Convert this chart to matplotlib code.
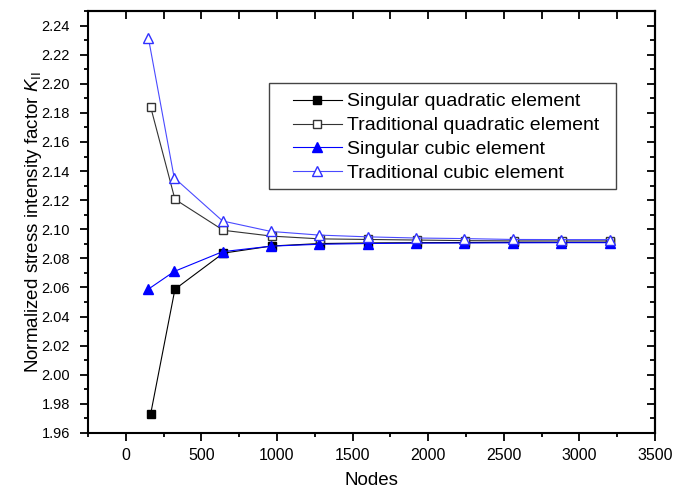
import numpy as np
import matplotlib
matplotlib.use("Agg")
import matplotlib.pyplot as plt
from matplotlib.ticker import MultipleLocator
from matplotlib.patches import Rectangle

plt.rcParams["font.family"] = ["Liberation Sans", "DejaVu Sans"]
plt.rcParams["mathtext.fontset"] = "custom"
plt.rcParams["mathtext.rm"] = "Liberation Sans"
plt.rcParams["mathtext.it"] = "Liberation Sans:italic"

# node counts
nodes_quad = [165, 325, 645, 965, 1285, 1605, 1925, 2245, 2565, 2885, 3205]
nodes_cubic = [150, 320, 640, 960, 1280, 1600, 1920, 2240, 2560, 2880, 3200]

singular_quad = [1.9734, 2.0588, 2.0836, 2.0885, 2.0902, 2.0906, 2.0908, 2.0909, 2.0910, 2.0910, 2.0910]
traditional_quad = [2.1838, 2.1206, 2.0993, 2.0953, 2.0934, 2.0930, 2.0926, 2.0922, 2.0920, 2.0920, 2.0920]
singular_cubic = [2.0589, 2.0710, 2.0846, 2.0884, 2.0897, 2.0902, 2.0905, 2.0906, 2.0907, 2.0908, 2.0908]
traditional_cubic = [2.2312, 2.1354, 2.1057, 2.0985, 2.0960, 2.0948, 2.0940, 2.0936, 2.0930, 2.0929, 2.0929]

labels = ["Singular quadratic element", "Traditional quadratic element",
          "Singular cubic element", "Traditional cubic element"]

fig = plt.figure(figsize=(6.86, 4.92), dpi=100)
ax = fig.add_axes([88 / 686, 1 - 433 / 492, 567 / 686, 422 / 492])

ax.plot(nodes_quad, singular_quad, color="black", lw=0.8, marker="s", ms=5.5,
        mfc="black", mec="black", label=labels[0])
ax.plot(nodes_quad, traditional_quad, color="#333333", lw=0.8, marker="s", ms=5.5,
        mfc="white", mec="#333333", label=labels[1])
ax.plot(nodes_cubic, singular_cubic, color="#0000ff", lw=0.8, marker="^", ms=7.5,
        mfc="#0000ff", mec="#0000ff", label=labels[2])
ax.plot(nodes_cubic, traditional_cubic, color="#4a4aff", lw=0.8, marker="^", ms=7.5,
        mfc="white", mec="#3030ff", label=labels[3])

ax.set_xlim(-250, 3500)
ax.set_ylim(1.96, 2.25)
ax.xaxis.set_major_locator(MultipleLocator(500))
ax.xaxis.set_minor_locator(MultipleLocator(250))
ax.yaxis.set_major_locator(MultipleLocator(0.02))
ax.yaxis.set_minor_locator(MultipleLocator(0.01))
ax.yaxis.set_major_formatter(plt.FormatStrFormatter("%.2f"))

for s in ax.spines.values():
    s.set_linewidth(1.5)
ax.tick_params(which="both", direction="out", width=1.3, top=False, right=False)
ax.tick_params(which="major", length=6)
ax.tick_params(which="minor", length=3)
ax.tick_params(axis="x", labelsize=11.5, pad=5)
ax.tick_params(axis="y", labelsize=10.5, pad=7)

# inward ticks on top and right
axt = ax.secondary_xaxis("top")
axt.xaxis.set_major_locator(MultipleLocator(250))
axt.tick_params(direction="in", length=6, width=1.3, labeltop=False)
axr = ax.secondary_yaxis("right")
axr.yaxis.set_major_locator(MultipleLocator(0.02))
axr.yaxis.set_minor_locator(MultipleLocator(0.01))
axr.tick_params(which="major", direction="in", length=6, width=1.3, labelright=False)
axr.tick_params(which="minor", direction="in", length=3.5, width=1.3)
axt.spines["top"].set_linewidth(1.5)
axr.spines["right"].set_linewidth(1.5)

ax.set_xlabel("Nodes", fontsize=13.5, labelpad=6)
ax.set_ylabel(r"Normalized stress intensity factor $K_{\mathrm{II}}$", fontsize=13.5, labelpad=-2)

# legend box drawn separately, entries without frame
ax.add_patch(Rectangle((0.319, 0.578), 0.612, 0.251, transform=ax.transAxes,
                       fill=False, edgecolor="#444444", lw=1.0, zorder=4))
leg = ax.legend(loc="upper left", bbox_to_anchor=(0.3616, 0.806), fontsize=14,
                frameon=False, handlelength=2.5, handletextpad=0.3,
                labelspacing=0.32, borderpad=0.0, borderaxespad=0.0)

fig.savefig("out.png", dpi=100)
